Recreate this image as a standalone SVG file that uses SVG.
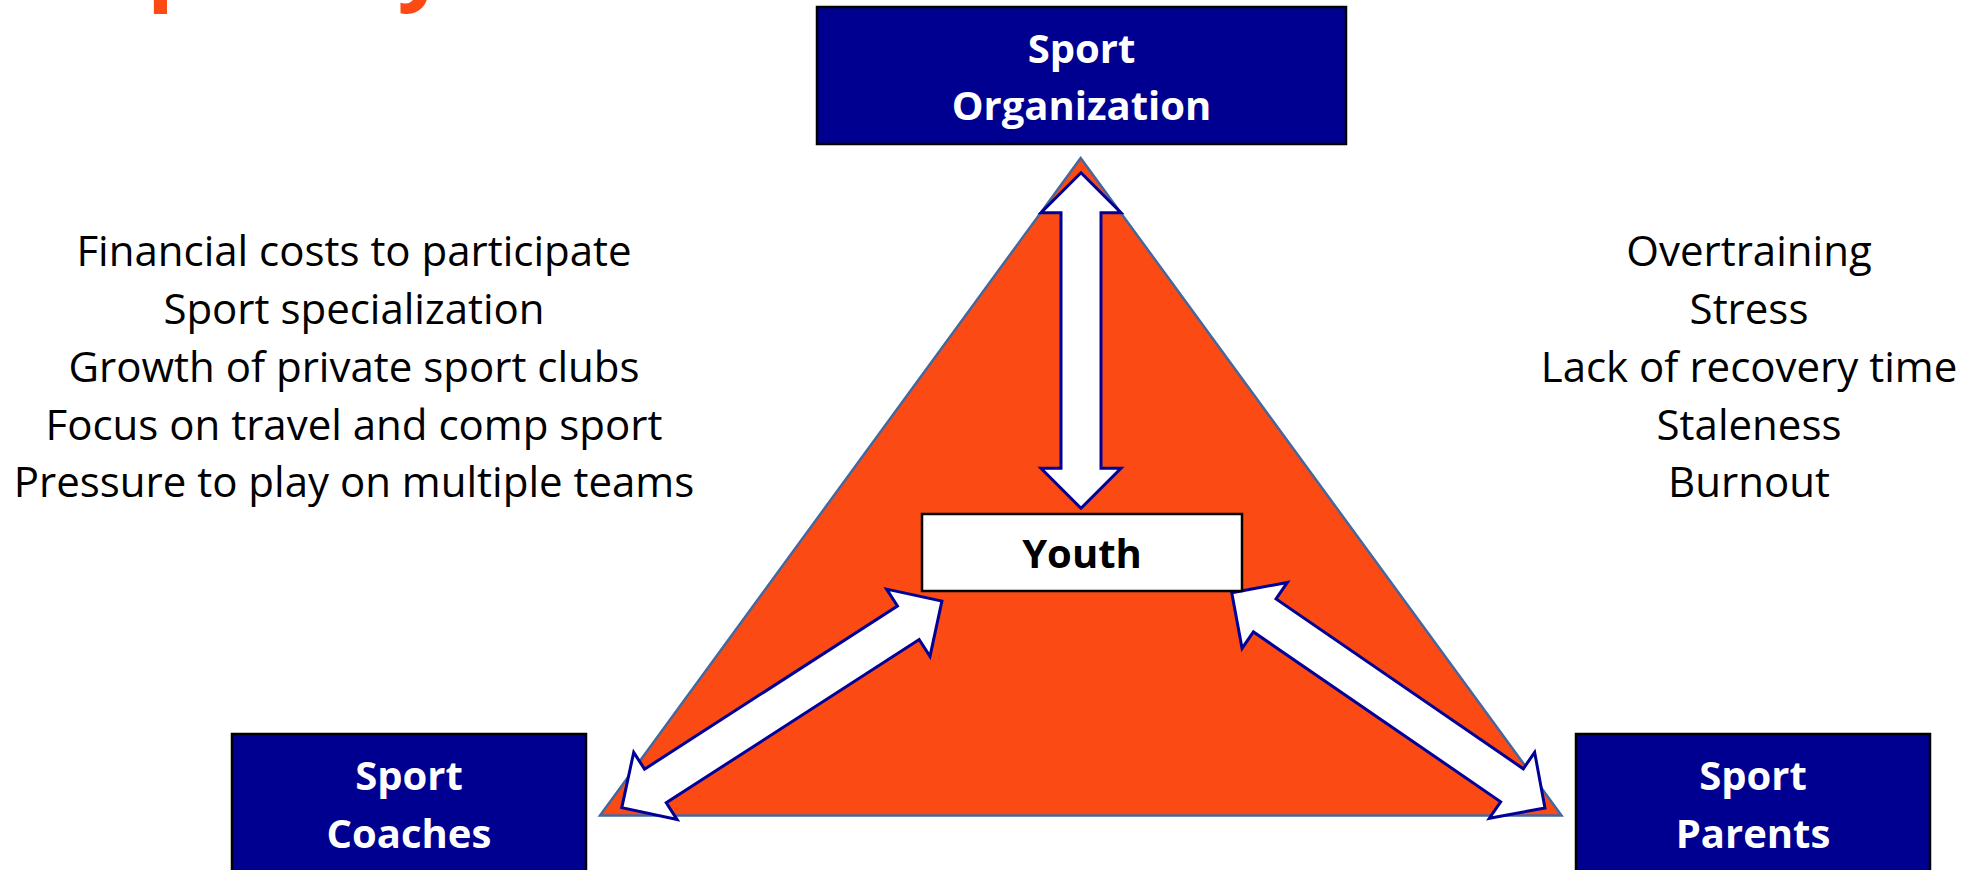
<svg xmlns="http://www.w3.org/2000/svg" width="1967" height="870" viewBox="0 0 1967 870">
  <style>
    .title { font-family: "Open Sans", "Liberation Sans", sans-serif; font-weight: 700; font-size: 88px; fill: #FC4A14; }
    .box { fill: #000090; stroke: #000000; stroke-width: 2.5; }
    .boxlabel { font-family: "Open Sans", "Liberation Sans", sans-serif; font-weight: 700; font-size: 40px; fill: #FFFFFF; text-anchor: middle; }
    .youth { fill: #FFFFFF; stroke: #000000; stroke-width: 2.5; }
    .youthlabel { font-family: "Open Sans", "Liberation Sans", sans-serif; font-weight: 700; font-size: 40px; fill: #000000; text-anchor: middle; }
    .tri { fill: #FC4A14; stroke: #44689E; stroke-width: 2.5; stroke-linejoin: miter; }
    .arrow { fill: #FFFFFF; stroke: #000099; stroke-width: 3; stroke-linejoin: miter; }
    .list { font-family: "Open Sans", "Liberation Sans", sans-serif; font-size: 42px; fill: #000000; text-anchor: middle; }
  </style>

  <rect width="1967" height="870" fill="#FFFFFF"/>

  <!-- heading, mostly above the visible area -->
  <text class="title" x="-50" y="-7">Complexity</text>

  <!-- background triangle -->
  <polygon id="triangle" class="tri" points="1080.7,158 600,815.5 1561.5,815.5"/>

  <!-- side lists -->
  <g id="pressures" class="list">
    <text x="354" y="266">Financial costs to participate</text>
    <text x="354" y="324">Sport specialization</text>
    <text x="354" y="382">Growth of private sport clubs</text>
    <text x="354" y="440">Focus on travel and comp sport</text>
    <text x="354" y="497">Pressure to play on multiple teams</text>
  </g>
  <g id="outcomes" class="list">
    <text x="1749" y="266">Overtraining</text>
    <text x="1749" y="324">Stress</text>
    <text x="1749" y="382">Lack of recovery time</text>
    <text x="1749" y="440">Staleness</text>
    <text x="1749" y="497">Burnout</text>
  </g>

  <!-- double-headed block arrows: shaft 40 wide, heads 80 wide and 40 long -->
  <g id="connectors">
    <!-- organization <-> youth -->
    <path class="arrow" transform="translate(1081,340.5) rotate(90)"
          d="M-167.75,0 L-127.75,-40 L-127.75,-20 L127.75,-20 L127.75,-40 L167.75,0 L127.75,40 L127.75,20 L-127.75,20 L-127.75,40 Z"/>
    <!-- coaches <-> youth -->
    <path class="arrow" transform="translate(781.85,704.35) rotate(-32.84)"
          d="M-190.5,0 L-150.5,-40 L-150.5,-20 L150.5,-20 L150.5,-40 L190.5,0 L150.5,40 L150.5,20 L-150.5,20 L-150.5,40 Z"/>
    <!-- parents <-> youth -->
    <path class="arrow" transform="translate(1388.35,700.35) rotate(34.49)"
          d="M-190,0 L-150,-40 L-150,-20 L150,-20 L150,-40 L190,0 L150,40 L150,20 L-150,20 L-150,40 Z"/>
  </g>

  <g id="node-organization">
    <rect class="box" x="817" y="7" width="529" height="137"/>
    <text class="boxlabel" x="1081.5" y="63">Sport</text>
    <text class="boxlabel" x="1081.5" y="120">Organization</text>
  </g>

  <g id="node-youth">
    <rect class="youth" x="922" y="514" width="320" height="77"/>
    <text class="youthlabel" x="1082" y="568">Youth</text>
  </g>

  <g id="node-coaches">
    <rect class="box" x="232" y="734" width="354" height="150"/>
    <text class="boxlabel" x="409" y="790">Sport</text>
    <text class="boxlabel" x="409" y="848">Coaches</text>
  </g>

  <g id="node-parents">
    <rect class="box" x="1576" y="734" width="354" height="150"/>
    <text class="boxlabel" x="1753" y="790">Sport</text>
    <text class="boxlabel" x="1753" y="848">Parents</text>
  </g>
</svg>
